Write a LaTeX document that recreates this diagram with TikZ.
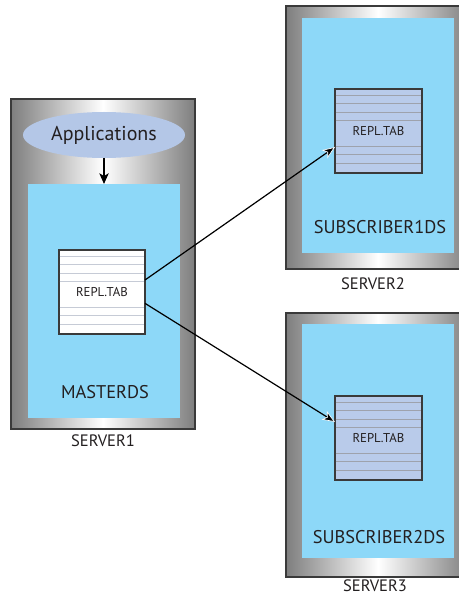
\documentclass[tikz,border=0pt]{standalone}
\usepackage{fontspec}
\setmainfont{PT Sans}
\usetikzlibrary{arrows.meta,calc,shapes.geometric}

\definecolor{storeblue}{HTML}{8DD8F8}
\definecolor{tablefill}{HTML}{B9CBEA}
\definecolor{appfill}{HTML}{B4C7E7}
\definecolor{frameedge}{HTML}{3A3A3A}
\definecolor{metal}{HTML}{7E7E7E}
\definecolor{ink}{HTML}{231F20}
\definecolor{rulemaster}{HTML}{C6CBD6}
\definecolor{rulesub}{HTML}{9EA2AC}

\tikzset{
  sized/.style 2 args={minimum width=#1*0.75pt, minimum height=#2*0.75pt,
                       inner sep=0pt, outer sep=0pt},
  serverbox/.style={rectangle, draw=frameedge, line width=0.9pt,
                    left color=metal, right color=metal, middle color=white},
  storebox/.style={rectangle, fill=storeblue},
  tablebox/.style={rectangle, draw=frameedge, line width=0.9pt},
  appnode/.style={ellipse, fill=appfill, text=ink, font=\fontsize{15}{18}\selectfont},
  dsname/.style={text=ink, font=\fontsize{13.8}{16}\selectfont},
  srvname/.style={text=ink, font=\fontsize{12.4}{14}\selectfont},
  tabname/.style={text=ink, font=\fontsize{9.6}{11}\selectfont},
  flow/.style={draw=black, line width=0.9pt,
               -{Stealth[length=9.5pt, width=7.5pt, inset=2.5pt, fill=black, color=white, line width=0.5pt]}},
}

% horizontal rules of a table icon, offsets measured from its top edge
\newcommand{\tablerules}[2]{%
  \foreach \d in {6.5,14,23,31,57,65.5,74}
    \draw[#2, line width=0.7pt] ($(#1.north west)+(0.6,\d)$) -- ($(#1.north east)+(-0.6,\d)$);
}

\begin{document}
\begin{tikzpicture}[x=0.75pt, y=-0.75pt]
\useasboundingbox (0,0) rectangle (459,598);
\clip (0,0) rectangle (459,598);

% ---- SERVER1 / MASTERDS ----
\node[serverbox, sized={184}{330}] (srv1) at (103,264) {};
\node[storebox, sized={152}{234}] (ds1) at (104,301) {};
\node[appnode, sized={162}{46}] (app) at (104,135) {Applications};
\node[tablebox, fill=white, sized={86}{84}] (tab1) at (102,292) {};
\tablerules{tab1}{rulemaster}
\node[tabname] at (tab1) {REPL.TAB};
\node[dsname] (ds1name) at (105,392) {MASTERDS};
\node[srvname] (srv1name) at (103,441) {SERVER1};

% ---- SERVER2 / SUBSCRIBER1DS ----
\node[serverbox, sized={184}{263}] (srv2) at (378,137.5) {};
\node[storebox, sized={152}{235}] (ds2) at (378,135.5) {};
\node[tablebox, fill=tablefill, sized={87}{84}] (tab2) at (378.5,131) {};
\tablerules{tab2}{rulesub}
\node[tabname] at (tab2) {REPL.TAB};
\node[dsname] (ds2name) at (380,227) {SUBSCRIBER1DS};
\node[srvname] (srv2name) at (373,284) {SERVER2};

% ---- SERVER3 / SUBSCRIBER2DS ----
\node[serverbox, sized={184}{264}] (srv3) at (378,445) {};
\node[storebox, sized={152}{234}] (ds3) at (378,441) {};
\node[tablebox, fill=tablefill, sized={87}{84}] (tab3) at (378.5,438) {};
\tablerules{tab3}{rulesub}
\node[tabname] at (tab3) {REPL.TAB};
\node[dsname] (ds3name) at (379,537) {SUBSCRIBER2DS};
\node[srvname] (srv3name) at (375,586) {SERVER3};

% ---- connectors ----
\draw[draw=black, line width=0.9pt, -{Stealth[length=8pt, width=7pt, inset=2pt]}]
  (app.south) -- (ds1.north);
\draw[flow] ([yshift=9pt]tab1.east) -- ([yshift=-12pt]tab2.west);
\draw[flow] ([yshift=-8.5pt]tab1.east) -- ([yshift=12pt]tab3.west);

\end{tikzpicture}
\end{document}
